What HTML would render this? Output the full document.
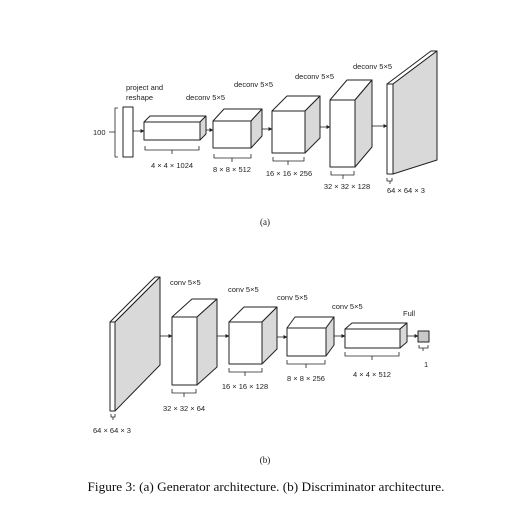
<!DOCTYPE html>
<html><head><meta charset="utf-8"><style>
html,body{margin:0;padding:0;background:#fff;width:530px;height:531px;overflow:hidden}
svg{display:block}
.l{font-family:"Liberation Sans",sans-serif;font-size:7.5px;fill:#222}
.c{font-family:"Liberation Serif",serif;fill:#111}
</style></head><body>
<svg width="530" height="531" viewBox="0 0 530 531" xmlns="http://www.w3.org/2000/svg">
<defs><marker id="ar" markerWidth="5" markerHeight="5" refX="4.5" refY="2.5" orient="auto"><path d="M0,0 L5,2.5 L0,5 z" fill="#222"/></marker></defs>
<g stroke="#222" stroke-width="1" fill="#fff" stroke-linejoin="round">
<path d="M118,108 h-3 v49 h3 M115,132 h-6" fill="none" stroke-width="0.8"/>
<rect x="123" y="107" width="10" height="50"/>
<rect x="144" y="122" width="56" height="18"/>
<polygon points="144,122 150,116 206,116 200,122"/>
<polygon points="200,122 206,116 206,134 200,140" fill="#d9d9d9"/>
<rect x="213" y="121" width="38" height="27"/>
<polygon points="213,121 224,109 262,109 251,121"/>
<polygon points="251,121 262,109 262,136 251,148" fill="#d9d9d9"/>
<rect x="272" y="111" width="33" height="42"/>
<polygon points="272,111 287,96 320,96 305,111"/>
<polygon points="305,111 320,96 320,138 305,153" fill="#d9d9d9"/>
<rect x="330" y="100" width="25" height="67"/>
<polygon points="330,100 347,80 372,80 355,100"/>
<polygon points="355,100 372,80 372,147 355,167" fill="#d9d9d9"/>
<rect x="387" y="84" width="6" height="90"/>
<polygon points="387,84 431,51 437,51 393,84"/>
<polygon points="393,84 437,51 437,160 393,174" fill="#d9d9d9"/>
<g fill="none" stroke-width="0.8" marker-end="url(#ar)">
<line x1="133" y1="131" x2="144" y2="131"/>
<line x1="206" y1="130" x2="213" y2="130"/>
<line x1="262" y1="129" x2="272" y2="129"/>
<line x1="320" y1="127" x2="330" y2="127"/>
<line x1="372" y1="126" x2="387" y2="126"/>
</g>
<g fill="none" stroke-width="0.8">
<path d="M145,146 v4 H199 v-4 M172,150 v4"/>
<path d="M214,154 v4 H251 v-4 M232,158 v4"/>
<path d="M273,157 v4 H304 v-4 M288,161 v4"/>
<path d="M331,171 v4 H354 v-4 M343,175 v4"/>
<path d="M387,178 v3 H392 v-3 M390,181 v3"/>
</g>
<rect x="110" y="322" width="5" height="89"/>
<polygon points="110,322 155,277 160,277 115,322"/>
<polygon points="115,322 160,277 160,365 115,411" fill="#d9d9d9"/>
<rect x="172" y="317" width="25" height="68"/>
<polygon points="172,317 192,299 217,299 197,317"/>
<polygon points="197,317 217,299 217,367 197,385" fill="#d9d9d9"/>
<rect x="229" y="322" width="33" height="42"/>
<polygon points="229,322 244,307 277,307 262,322"/>
<polygon points="262,322 277,307 277,349 262,364" fill="#d9d9d9"/>
<rect x="287" y="328" width="39" height="28"/>
<polygon points="287,328 295,317 334,317 326,328"/>
<polygon points="326,328 334,317 334,345 326,356" fill="#d9d9d9"/>
<rect x="345" y="329" width="55" height="19"/>
<polygon points="345,329 352,323 407,323 400,329"/>
<polygon points="400,329 407,323 407,342 400,348" fill="#d9d9d9"/>
<rect x="418" y="331" width="11" height="11" fill="#c8c8c8"/>
<g fill="none" stroke-width="0.8" marker-end="url(#ar)">
<line x1="160" y1="336" x2="172" y2="336"/>
<line x1="217" y1="336" x2="229" y2="336"/>
<line x1="277" y1="337" x2="287" y2="337"/>
<line x1="334" y1="336" x2="345" y2="336"/>
<line x1="407" y1="336" x2="418" y2="336"/>
</g>
<g fill="none" stroke-width="0.8">
<path d="M111,414 v3 H115 v-3 M113,417 v3"/>
<path d="M172,389 v4 H196 v-4 M184,393 v4"/>
<path d="M229,368 v4 H262 v-4 M245,372 v4"/>
<path d="M287,360 v4 H325 v-4 M306,364 v4"/>
<path d="M345,352 v4 H399 v-4 M372,356 v4"/>
<path d="M419,345 v3 H428 v-3 M423,348 v3"/>
</g>
</g>
<g class="l">
<text x="93" y="135">100</text>
<text x="126" y="90">project and</text>
<text x="126" y="100">reshape</text>
<text x="186" y="100">deconv 5×5</text>
<text x="234" y="87">deconv 5×5</text>
<text x="295" y="79">deconv 5×5</text>
<text x="353" y="69">deconv 5×5</text>
<text x="172" y="168" text-anchor="middle">4 × 4 × 1024</text>
<text x="232" y="172" text-anchor="middle">8 × 8 × 512</text>
<text x="289" y="176" text-anchor="middle">16 × 16 × 256</text>
<text x="347" y="189" text-anchor="middle">32 × 32 × 128</text>
<text x="387" y="193">64 × 64 × 3</text>
<text x="170" y="285">conv 5×5</text>
<text x="228" y="292">conv 5×5</text>
<text x="277" y="300">conv 5×5</text>
<text x="332" y="309">conv 5×5</text>
<text x="403" y="316">Full</text>
<text x="424" y="367">1</text>
<text x="184" y="411" text-anchor="middle">32 × 32 × 64</text>
<text x="245" y="389" text-anchor="middle">16 × 16 × 128</text>
<text x="306" y="381" text-anchor="middle">8 × 8 × 256</text>
<text x="372" y="377" text-anchor="middle">4 × 4 × 512</text>
<text x="112" y="433" text-anchor="middle">64 × 64 × 3</text>
</g>
<text class="c" x="265" y="225" font-size="9" text-anchor="middle">(a)</text>
<text class="c" x="265" y="463" font-size="9" text-anchor="middle">(b)</text>
<text class="c" x="266" y="491" font-size="12.5" text-anchor="middle" textLength="357" lengthAdjust="spacingAndGlyphs">Figure 3: (a) Generator architecture. (b) Discriminator architecture.</text>
</svg>
</body></html>
